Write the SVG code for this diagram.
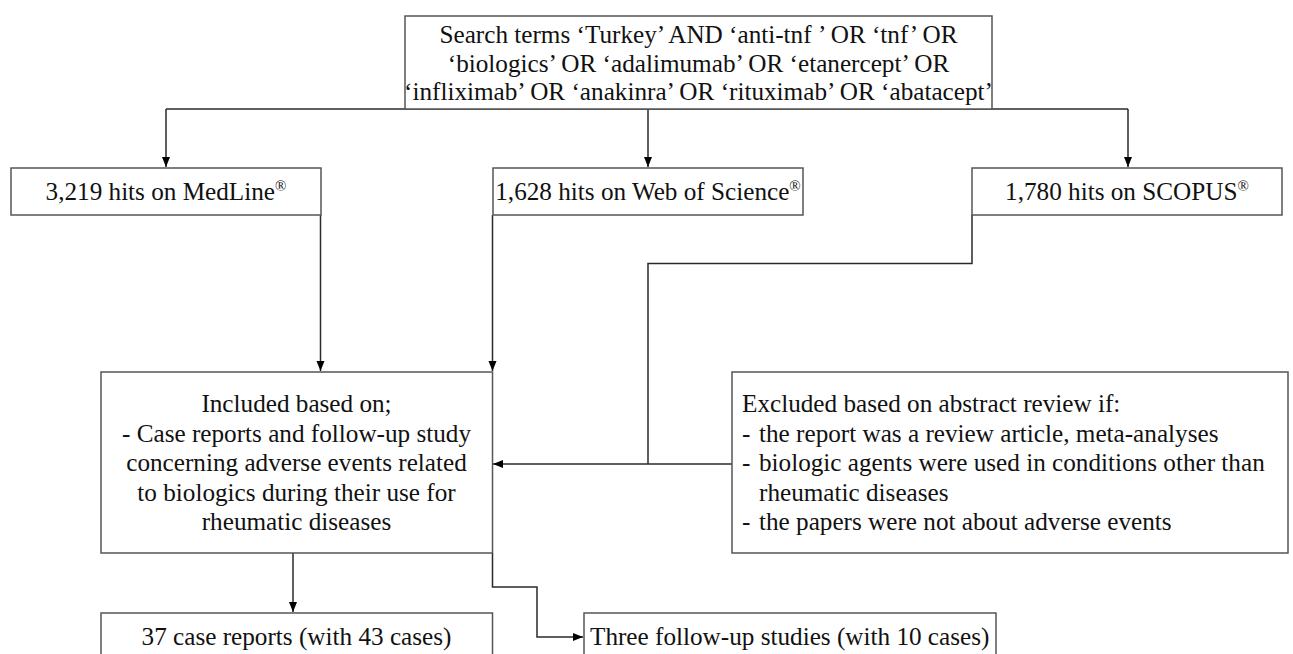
<svg xmlns="http://www.w3.org/2000/svg" width="1293" height="654" viewBox="0 0 1293 654">
<style>
.box{fill:#fff;stroke:#555;stroke-width:1.5}
.t{font-family:"Liberation Serif","Times New Roman",serif;font-size:25.2px;fill:#111}
.c{text-anchor:middle}
.sup{font-size:15px}
.ln{fill:none;stroke:#2a2a2a;stroke-width:1.5}
</style>
<defs>
<marker id="ah" viewBox="0 0 10 10" refX="10" refY="5" markerWidth="10" markerHeight="10" markerUnits="userSpaceOnUse" orient="auto">
<path d="M0,1 L10,5 L0,9 Z" fill="#000"/>
</marker>
</defs>
<rect width="1293" height="654" fill="#fff"/>
<g id="connectors">
<path class="ln" d="M166,109 H1128"/>
<path class="ln" d="M166,109 V167" marker-end="url(#ah)"/>
<path class="ln" d="M648,109 V167" marker-end="url(#ah)"/>
<path class="ln" d="M1128,109 V167" marker-end="url(#ah)"/>
<path class="ln" d="M320.5,215 V371" marker-end="url(#ah)"/>
<path class="ln" d="M492.5,215 V371" marker-end="url(#ah)"/>
<path class="ln" d="M972,215 V263.5 H648 V464"/>
<path class="ln" d="M732,464 H493" marker-end="url(#ah)"/>
<path class="ln" d="M293,553 V612" marker-end="url(#ah)"/>
<path class="ln" d="M492.5,553 V587 H537 V637 H583" marker-end="url(#ah)"/>
</g>
<g id="search">
<rect class="box" x="405" y="16" width="587" height="93"/>
<text class="t c" x="698.5" y="43">Search terms ‘Turkey’ AND ‘anti-tnf ’ OR ‘tnf’ OR</text>
<text class="t c" x="698.5" y="71.5">‘biologics’ OR ‘adalimumab’ OR ‘etanercept’ OR</text>
<text class="t c" x="698.5" y="100">‘infliximab’ OR ‘anakinra’ OR ‘rituximab’ OR ‘abatacept’</text>
</g>
<g id="medline">
<rect class="box" x="11" y="168" width="310" height="47"/>
<text class="t c" x="166" y="200">3,219 hits on MedLine<tspan class="sup" dy="-9">®</tspan></text>
</g>
<g id="wos">
<rect class="box" x="493" y="168" width="310" height="47"/>
<text class="t c" x="648" y="200">1,628 hits on Web of Science<tspan class="sup" dy="-9">®</tspan></text>
</g>
<g id="scopus">
<rect class="box" x="972" y="168" width="310" height="47"/>
<text class="t c" x="1127" y="200">1,780 hits on SCOPUS<tspan class="sup" dy="-9">®</tspan></text>
</g>
<g id="included">
<rect class="box" x="101" y="372" width="391.5" height="181"/>
<text class="t c" x="296.5" y="412">Included based on;</text>
<text class="t c" x="296.5" y="441.5">- Case reports and follow-up study</text>
<text class="t c" x="296.5" y="471">concerning adverse events related</text>
<text class="t c" x="296.5" y="500.5">to biologics during their use for</text>
<text class="t c" x="296.5" y="530">rheumatic diseases</text>
</g>
<g id="excluded">
<rect class="box" x="732" y="372" width="556" height="181"/>
<text class="t" x="742" y="412">Excluded based on abstract review if:</text>
<text class="t" y="441.5"><tspan x="742">-</tspan><tspan x="759">the report was a review article, meta-analyses</tspan></text>
<text class="t" y="471"><tspan x="742">-</tspan><tspan x="759">biologic agents were used in conditions other than</tspan></text>
<text class="t" x="759" y="500.5">rheumatic diseases</text>
<text class="t" y="530"><tspan x="742">-</tspan><tspan x="759">the papers were not about adverse events</tspan></text>
</g>
<g id="caseReports">
<rect class="box" x="101" y="613" width="391.5" height="60"/>
<text class="t c" x="296.5" y="645">37 case reports (with 43 cases)</text>
</g>
<g id="followUp">
<rect class="box" x="584" y="613" width="412" height="60"/>
<text class="t" x="590" y="645">Three follow-up studies (with 10 cases)</text>
</g>
</svg>
